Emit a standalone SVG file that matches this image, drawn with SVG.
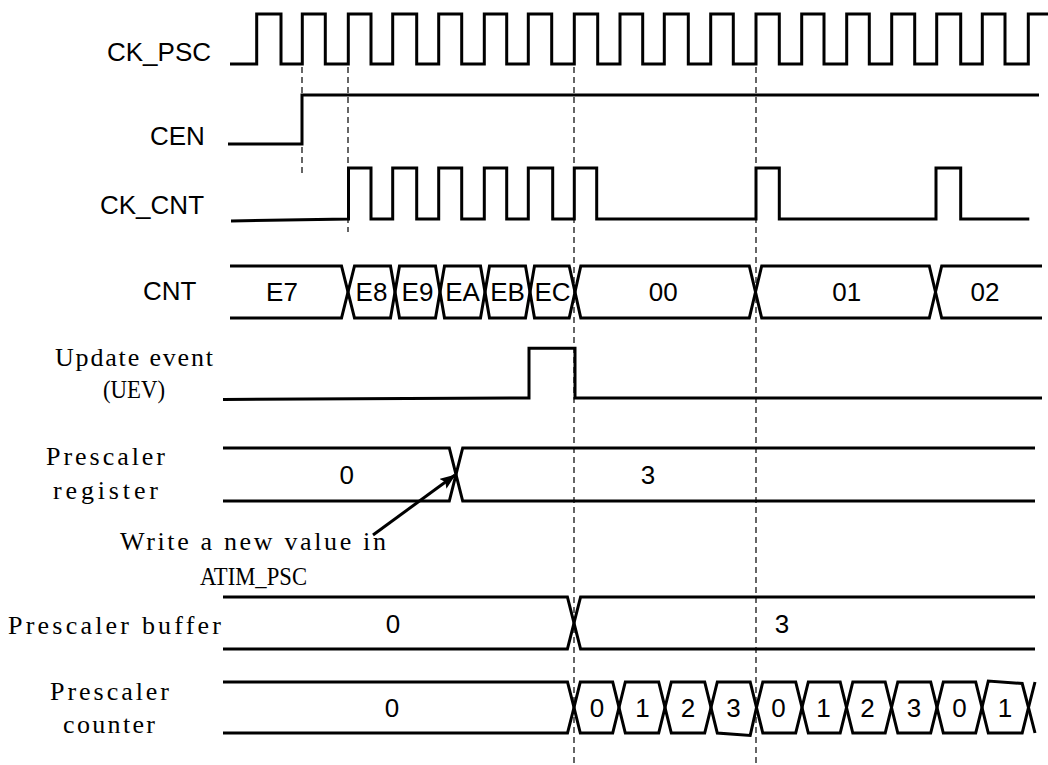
<svg xmlns="http://www.w3.org/2000/svg" width="1048" height="765" viewBox="0 0 1048 765">
<style>
.w{fill:none;stroke:#000;stroke-width:3;stroke-linejoin:miter;stroke-linecap:butt}
.d{fill:none;stroke:#000;stroke-width:1.2;stroke-dasharray:6 4}
.s{font-family:"Liberation Sans",Arial,sans-serif;font-size:26px;fill:#000}
.m{font-family:"Liberation Serif","Times New Roman",serif;font-size:26px;fill:#000}
.c{text-anchor:middle}
</style>
<defs>
<marker id="ah" markerUnits="userSpaceOnUse" markerWidth="16" markerHeight="12" refX="15" refY="6" orient="auto">
<path d="M0,0 L16,6 L0,12 L3,6 z" fill="#000"/>
</marker>
</defs>
<rect width="1048" height="765" fill="#fff"/>

<g id="connectors">
<line class="d" x1="302" y1="67" x2="302" y2="177"/>
<line class="d" x1="348" y1="67" x2="348" y2="232"/>
<line class="d" x1="574" y1="67" x2="574" y2="765"/>
<line class="d" x1="756" y1="67" x2="756" y2="765"/>
<line x1="373" y1="535" x2="455" y2="475" stroke="#000" stroke-width="3" marker-end="url(#ah)"/>
</g>

<g id="ck_psc">
<text class="s" x="107" y="61">CK_PSC</text>
<path class="w" d="M230,64 H256.7 V14 H281 V64 H302.3 V14 H325.3 V64 H348.3 V14 H371 V64 H392.7 V14 H416.7 V64 H438.7 V14 H461.7 V64 H484.3 V14 H506.7 V64 H528.3 V14 H551.7 V64 H574.3 V14 H597.7 V64 H620 V14 H642.7 V64 H664.3 V14 H688.3 V64 H710.7 V14 H733.3 V64 H756 V14 H779.3 V64 H801.7 V14 H824 V64 H846.7 V14 H869.3 V64 H891.7 V14 H914.7 V64 H936.7 V14 H960.7 V64 H982.3 V14 H1005 V64 H1028.3 V14 H1048"/>
</g>

<g id="cen">
<text class="s" x="150" y="145">CEN</text>
<path class="w" d="M228,144 H302 V95 H1039"/>
</g>

<g id="ck_cnt">
<text class="s" x="100" y="214">CK_CNT</text>
<path class="w" d="M231,221 L348.5,219 V168 H371 V219 H392.7 V168 H416.7 V219 H438.7 V168 H461.7 V219 H484.3 V168 H506.7 V219 H528.3 V168 H552.7 V219 H574.3 V168 H596.7 V219 H756 V168 H779.3 V219 H936 V168 H960.7 V219 H1029.3"/>
</g>

<g id="cnt">
<text class="s" x="143" y="300">CNT</text>
<path class="w" d="M230,266 H341.5 L348,292 L341.5,318 H230"/>
<path class="w" d="M348,292 L354.5,266 H390.5 L395,292 L390.5,318 H354.5 Z"/>
<path class="w" d="M395,292 L399.5,266 H435.5 L440,292 L435.5,318 H399.5 Z"/>
<path class="w" d="M440,292 L444.5,266 H480.5 L485,292 L480.5,318 H444.5 Z"/>
<path class="w" d="M485,292 L489.5,266 H525.5 L530,292 L525.5,318 H489.5 Z"/>
<path class="w" d="M530,292 L534.5,266 H569.2 L575,292 L569.2,318 H534.5 Z"/>
<path class="w" d="M575,292 L580.8,266 H749.3 L755.5,292 L749.3,318 H580.8 Z"/>
<path class="w" d="M755.5,292 L761.7,266 H929.3 L935.5,292 L929.3,318 H761.7 Z"/>
<path class="w" d="M1042,266 H941.7 L935.5,292 L941.7,318 H1042"/>
<text class="s c" x="282" y="301">E7</text>
<text class="s c" x="371.5" y="301">E8</text>
<text class="s c" x="417.5" y="301">E9</text>
<text class="s c" x="462.5" y="301">EA</text>
<text class="s c" x="507.5" y="301">EB</text>
<text class="s c" x="552.5" y="301">EC</text>
<text class="s c" x="663.3" y="301">00</text>
<text class="s c" x="846.7" y="301">01</text>
<text class="s c" x="985" y="301">02</text>
</g>

<g id="uev">
<text class="m" x="55" y="366" textLength="158" lengthAdjust="spacing">Update event</text>
<text class="m" x="103" y="398" textLength="62" lengthAdjust="spacingAndGlyphs">(UEV)</text>
<path class="w" d="M223,399.5 L529,398 V348.3 H575 V398 H1042"/>
</g>

<g id="prescaler_register">
<text class="m" x="46" y="465" textLength="119" lengthAdjust="spacing">Prescaler</text>
<text class="m" x="53" y="499" textLength="105" lengthAdjust="spacing">register</text>
<path class="w" d="M223,448 H449.3 L456,474.5 L449.3,501 H223"/>
<path class="w" d="M1035,448 H462.7 L456,474.5 L462.7,501 H1035"/>
<text class="s c" x="346.7" y="484">0</text>
<text class="s c" x="648" y="484">3</text>
</g>

<g id="write_note">
<text class="m" x="120" y="550" textLength="266" lengthAdjust="spacing">Write a new value in</text>
<text class="m" x="200" y="585" textLength="107" lengthAdjust="spacingAndGlyphs">ATIM_PSC</text>
</g>

<g id="prescaler_buffer">
<text class="m" x="8" y="634" textLength="213" lengthAdjust="spacing">Prescaler buffer</text>
<path class="w" d="M223,597 H567.4 L574,623 L567.4,649 H223"/>
<path class="w" d="M1035,597 H580.6 L574,623 L580.6,649 H1035"/>
<text class="s c" x="393" y="633">0</text>
<text class="s c" x="782" y="633">3</text>
</g>

<g id="prescaler_counter">
<text class="m" x="50" y="700" textLength="119" lengthAdjust="spacing">Prescaler</text>
<text class="m" x="63" y="733" textLength="92" lengthAdjust="spacing">counter</text>
<path class="w" d="M223,682 H567.5 L574,707.5 L567.5,733 H223"/>
<path class="w" d="M574,707.5 L580.3,682 H612.7 L619,707.5 L612.7,733 H580.3 Z"/>
<path class="w" d="M619,707.5 L625.3,682 H658.7 L665,707.5 L658.7,733 H625.3 Z"/>
<path class="w" d="M665,707.5 L671.3,682 H704.7 L711,707.5 L704.7,733 H671.3 Z"/>
<path class="w" d="M711,707.5 L717.3,682 H750.2 L756.5,707.5 L750.2,735.5 L717.3,733 Z"/>
<path class="w" d="M756.5,707.5 L762.8,682 H795.7 L802,707.5 L795.7,733 H762.8 Z"/>
<path class="w" d="M802,707.5 L808.3,682 H840.2 L846.5,707.5 L840.2,733 H808.3 Z"/>
<path class="w" d="M846.5,707.5 L852.8,682 H885.2 L891.5,707.5 L885.2,733 H852.8 Z"/>
<path class="w" d="M891.5,707.5 L897.8,682 H930.7 L937,707.5 L930.7,733 H897.8 Z"/>
<path class="w" d="M937,707.5 L943.3,682 H975.7 L982,707.5 L975.7,733 H943.3 Z"/>
<path class="w" d="M982,707.5 L988.3,681 L1022.2,683.5 L1028.5,707.5 L1022.2,733 H988.3 Z"/>
<path class="w" d="M1028.5,707.5 L1035,682 M1028.5,707.5 L1035,733"/>
<text class="s c" x="392" y="717">0</text>
<text class="s c" x="597" y="717">0</text>
<text class="s c" x="642.5" y="717">1</text>
<text class="s c" x="688" y="717">2</text>
<text class="s c" x="733.5" y="717">3</text>
<text class="s c" x="778.5" y="717">0</text>
<text class="s c" x="823.5" y="717">1</text>
<text class="s c" x="867.5" y="717">2</text>
<text class="s c" x="914" y="717">3</text>
<text class="s c" x="959.5" y="717">0</text>
<text class="s c" x="1005" y="717">1</text>
</g>
</svg>
